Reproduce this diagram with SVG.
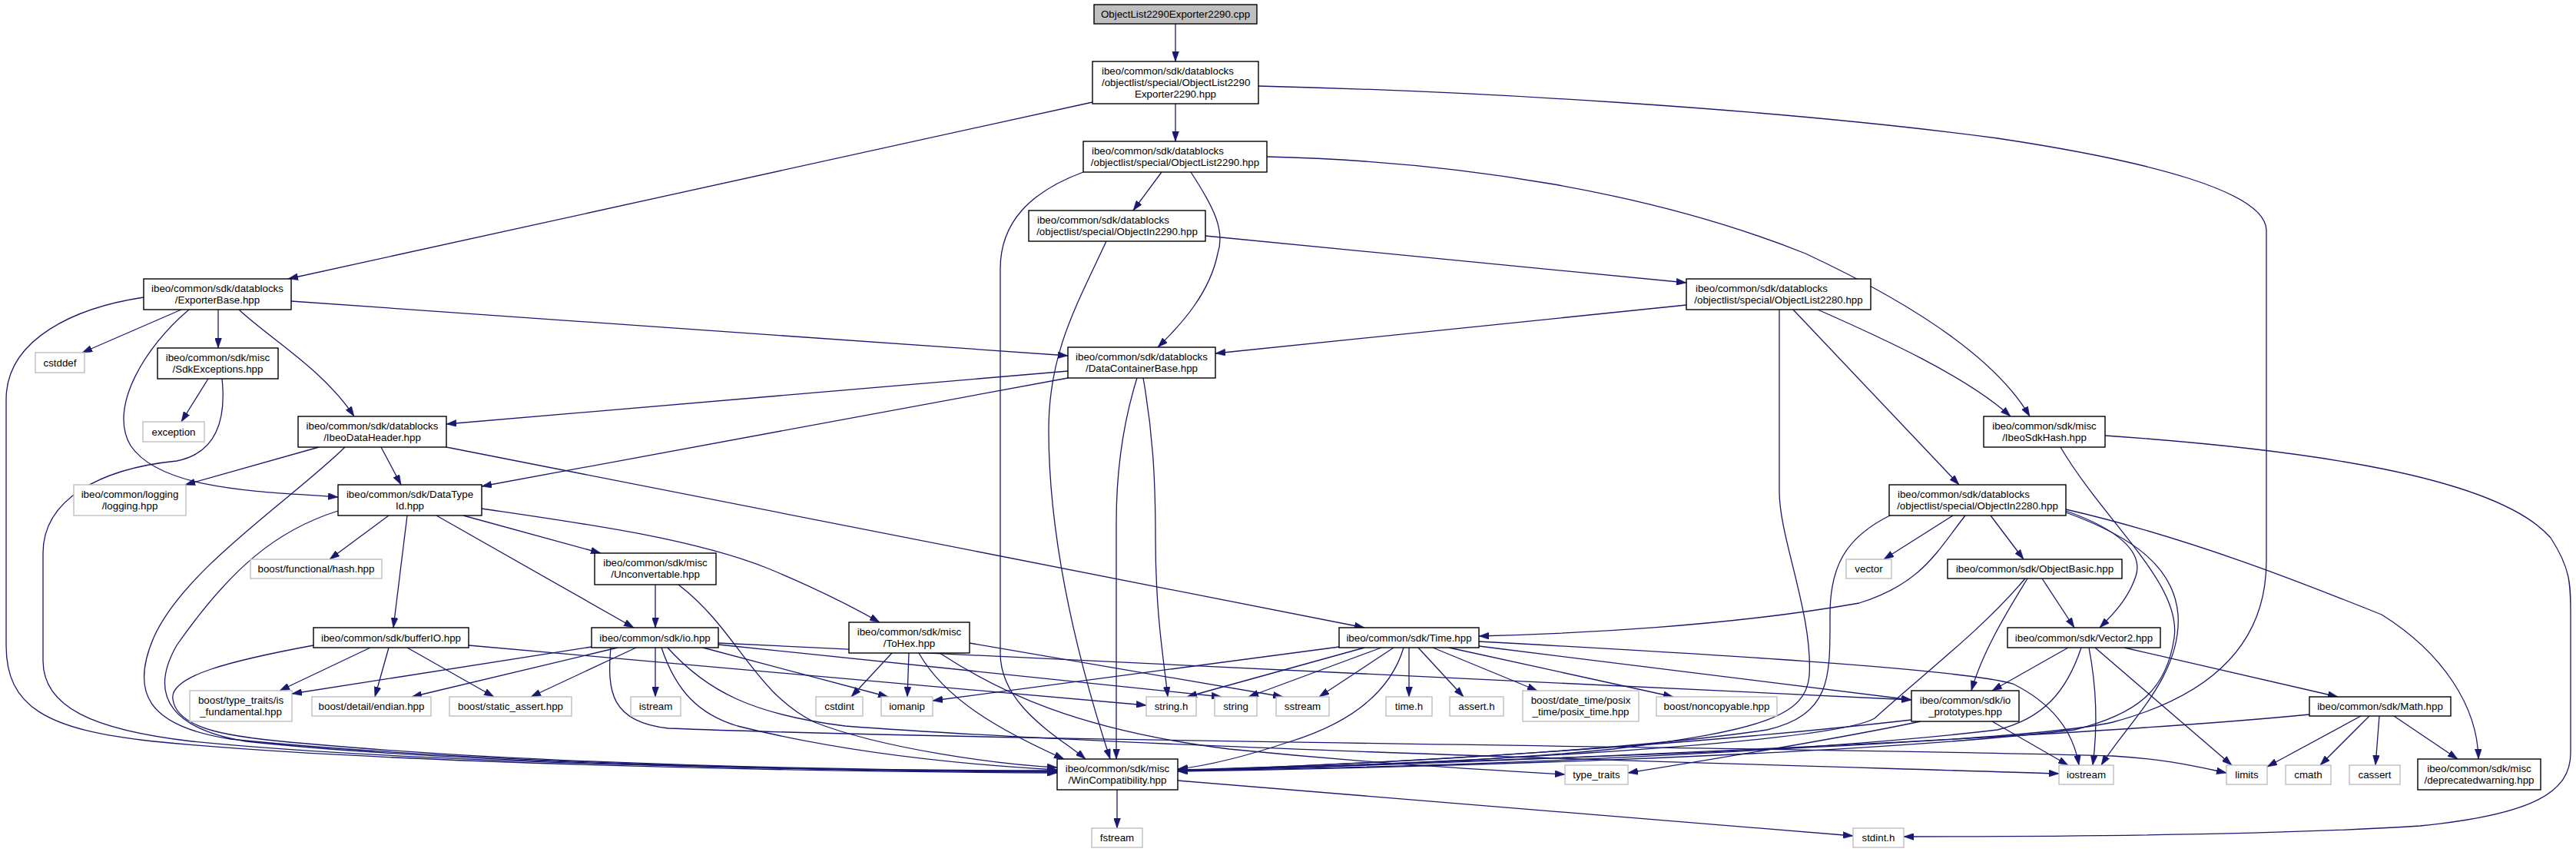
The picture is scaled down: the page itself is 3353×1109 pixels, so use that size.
<svg xmlns="http://www.w3.org/2000/svg" width="3353" height="1109" viewBox="0 0 3353 1109">
<style>
text{font-family:"Liberation Sans",Arial,Helvetica,sans-serif;font-size:13.33px;fill:#000}
.m{text-anchor:middle}
.s{text-anchor:start}
.n rect{fill:#fff;stroke:#000;stroke-width:1.4}
.g rect{fill:#fff;stroke:#bfbfbf;stroke-width:1.4}
.r rect{fill:#bfbfbf;stroke:#000;stroke-width:1.4}
#edges path{fill:none;stroke:#191970;stroke-width:1.3;marker-end:url(#a)}
</style>
<defs>
<marker id="a" markerUnits="userSpaceOnUse" viewBox="0 0 13 9" markerWidth="13" markerHeight="9" refX="13" refY="4.5" orient="auto">
<path d="M0,0 L13,4.5 L0,9 z" fill="#191970" stroke="#191970" stroke-width="0.5"/>
</marker>
</defs>
<rect width="3353" height="1109" fill="#fff"/>
<g id="edges">
<path d="M1530,31 L1530,80"/>
<path d="M1530,135 L1530,184"/>
<path d="M1422,133 L375,363"/>
<path d="M1638,112 C1900,118 2300,140 2600,180 C2800,210 2950,250 2950,300 L2950,730 C2950,820 2900,900 2750,940 C2600,975 1700,996 1533,1003"/>
<path d="M1512,224 L1475,274"/>
<path d="M1550,224 C1580,270 1595,300 1585,330 C1575,380 1540,420 1507,452"/>
<path d="M1649,204 C1900,210 2150,250 2350,330 C2500,400 2600,470 2642,542"/>
<path d="M1410,224 C1340,250 1302,290 1302,350 L1302,850 C1302,920 1380,960 1413,988"/>
<path d="M1569,307 L2195,368"/>
<path d="M1440,314 C1400,400 1365,460 1365,560 C1365,700 1400,850 1445,988"/>
<path d="M2195,397 L1582,460"/>
<path d="M2366,403 C2450,440 2560,490 2617,542"/>
<path d="M2334,403 L2550,631"/>
<path d="M2316,403 L2316,640 C2316,700 2360,800 2355,880 C2350,930 2300,950 2100,975 C1900,995 1650,1000 1533,1003"/>
<path d="M236,403 L107,459"/>
<path d="M284,403 L284,453"/>
<path d="M311,403 C350,440 420,480 461,542"/>
<path d="M246,403 C190,450 140,530 170,580 C210,640 350,640 440,647"/>
<path d="M187,387 C100,400 8,440 8,520 L8,840 C8,920 60,950 200,965 C500,995 1100,1005 1376,1006"/>
<path d="M379,392 L1390,463"/>
<path d="M271,493 L236,549"/>
<path d="M289,493 C295,550 280,590 230,600 C130,610 56,650 56,720 L56,860 C56,920 120,950 250,965 C550,995 1100,1003 1376,1004"/>
<path d="M1390,483 L581,552"/>
<path d="M1390,492 L627,633"/>
<path d="M1480,492 C1465,540 1453,600 1453,680 L1453,988"/>
<path d="M1488,492 C1500,560 1504,620 1504,700 C1504,800 1515,860 1520,907"/>
<path d="M2740,567 C3000,585 3250,620 3320,700 C3346,740 3346,760 3346,800 L3346,980 C3346,1030 3300,1060 3150,1075 C2950,1088 2650,1089 2478,1089"/>
<path d="M2682,582 C2740,680 2840,760 2830,830 C2820,900 2780,930 2700,950 C2400,985 1800,1000 1533,1004"/>
<path d="M415,582 L241,631"/>
<path d="M496,582 L522,631"/>
<path d="M449,582 C380,650 240,740 200,830 C170,900 190,945 300,962 C600,993 1100,1004 1376,1005"/>
<path d="M581,582 L1776,817"/>
<path d="M506,671 L429,728"/>
<path d="M530,671 L512,817"/>
<path d="M568,671 L825,817"/>
<path d="M603,671 L782,720"/>
<path d="M627,662 C750,680 900,700 1000,740 C1060,765 1110,790 1145,810"/>
<path d="M440,665 C360,690 300,740 230,840 C190,910 230,950 320,965 C600,995 1100,1004 1376,1004"/>
<path d="M853,761 L853,817"/>
<path d="M883,761 C960,820 980,900 1060,940 C1150,975 1300,995 1376,999"/>
<path d="M482,843 L364,899"/>
<path d="M506,843 L488,907"/>
<path d="M530,843 L643,907"/>
<path d="M408,840 C300,860 220,880 225,910 C230,950 300,960 400,968 C700,995 1100,1003 1376,1003"/>
<path d="M610,840 L1492,918"/>
<path d="M770,842 L380,903"/>
<path d="M804,843 L536,907"/>
<path d="M828,843 L691,907"/>
<path d="M853,843 L853,907"/>
<path d="M915,843 L1156,907"/>
<path d="M935,839 L1590,907"/>
<path d="M935,837 L2488,911"/>
<path d="M861,843 C880,900 910,930 960,945 C1100,980 1250,995 1376,1002"/>
<path d="M869,843 C920,900 980,930 1100,945 C1500,975 2300,995 2680,1007"/>
<path d="M795,843 C790,900 795,940 870,948 C1300,965 2500,975 2750,984 C2820,988 2860,998 2898,1006"/>
<path d="M1743,842 L1214,912"/>
<path d="M1776,843 L1545,907"/>
<path d="M1798,843 L1625,907"/>
<path d="M1814,843 L1717,907"/>
<path d="M1834,843 L1834,907"/>
<path d="M1846,843 L1905,907"/>
<path d="M1865,843 L2001,899"/>
<path d="M1886,843 L2178,907"/>
<path d="M1925,841 L2488,911"/>
<path d="M1925,835 C2200,850 2550,870 2620,890 C2680,920 2700,960 2706,996"/>
<path d="M1827,843 C1810,900 1760,940 1680,965 C1620,985 1570,997 1533,1001"/>
<path d="M1161,850 L1108,907"/>
<path d="M1183,850 L1181,907"/>
<path d="M1262,837 L1670,907"/>
<path d="M1196,850 C1230,910 1300,950 1385,988"/>
<path d="M1223,850 C1300,900 1400,950 1600,975 C1800,995 1950,1003 2037,1008"/>
<path d="M2542,671 L2452,728"/>
<path d="M2558,671 C2520,720 2500,760 2420,785 C2250,815 2050,825 1925,828"/>
<path d="M2462,670 C2400,700 2382,740 2382,800 C2382,880 2385,930 2300,950 C2100,980 1700,998 1533,1002"/>
<path d="M2591,671 L2634,728"/>
<path d="M2689,665 C2760,690 2790,720 2780,750 C2770,780 2750,800 2733,817"/>
<path d="M2689,667 C2780,700 2830,740 2835,800 C2840,880 2770,940 2735,996"/>
<path d="M2689,663 C2850,700 3000,760 3100,800 C3180,850 3225,920 3226,988"/>
<path d="M2658,753 L2700,817"/>
<path d="M2639,753 C2610,800 2580,850 2566,899"/>
<path d="M2636,753 C2580,820 2500,880 2440,935 C2380,970 1800,998 1533,1003"/>
<path d="M2692,843 L2593,899"/>
<path d="M2719,843 C2730,900 2730,950 2724,996"/>
<path d="M2727,843 L2905,996"/>
<path d="M2765,843 L3043,907"/>
<path d="M2709,843 C2690,900 2660,935 2600,950 C2300,985 1800,1000 1533,1003"/>
<path d="M3073,932 L2951,998"/>
<path d="M3084,932 L3020,996"/>
<path d="M3097,932 L3092,996"/>
<path d="M3116,932 L3199,988"/>
<path d="M3006,930 C2700,960 1900,995 1533,1003"/>
<path d="M2593,939 L2692,996"/>
<path d="M2500,939 C2400,960 2250,985 2119,1006"/>
<path d="M2488,937 C2200,970 1800,995 1533,1003"/>
<path d="M1454,1028 L1454,1078"/>
<path d="M1533,1016 L2412,1088"/>
</g>
<g id="n1" class="r"><rect x="1424" y="6" width="212" height="25"/><text class="m" x="1530" y="23">ObjectList2290Exporter2290.cpp</text></g>
<g id="n2" class="n"><rect x="1422" y="80" width="216" height="55"/><text class="s" x="1434" y="97">ibeo/common/sdk/datablocks</text><text class="s" x="1434" y="112">/objectlist/special/ObjectList2290</text><text class="m" x="1530" y="127">Exporter2290.hpp</text></g>
<g id="n3" class="n"><rect x="1410" y="184" width="239" height="40"/><text class="s" x="1421" y="200.5">ibeo/common/sdk/datablocks</text><text class="m" x="1529.5" y="215.5">/objectlist/special/ObjectList2290.hpp</text></g>
<g id="n4" class="n"><rect x="1339" y="274" width="230" height="40"/><text class="s" x="1350" y="290.5">ibeo/common/sdk/datablocks</text><text class="m" x="1454" y="305.5">/objectlist/special/ObjectIn2290.hpp</text></g>
<g id="n5" class="n"><rect x="2195" y="363" width="240" height="40"/><text class="s" x="2207" y="379.5">ibeo/common/sdk/datablocks</text><text class="m" x="2315" y="394.5">/objectlist/special/ObjectList2280.hpp</text></g>
<g id="n6" class="n"><rect x="187" y="363" width="192" height="40"/><text class="m" x="283" y="379.5">ibeo/common/sdk/datablocks</text><text class="m" x="283" y="394.5">/ExporterBase.hpp</text></g>
<g id="n7" class="n"><rect x="1390" y="452" width="192" height="40"/><text class="m" x="1486" y="468.5">ibeo/common/sdk/datablocks</text><text class="m" x="1486" y="483.5">/DataContainerBase.hpp</text></g>
<g id="n8" class="n"><rect x="2582" y="542" width="158" height="40"/><text class="m" x="2661" y="558.5">ibeo/common/sdk/misc</text><text class="m" x="2661" y="573.5">/IbeoSdkHash.hpp</text></g>
<g id="n9" class="n"><rect x="388" y="542" width="193" height="40"/><text class="m" x="484.5" y="558.5">ibeo/common/sdk/datablocks</text><text class="m" x="484.5" y="573.5">/IbeoDataHeader.hpp</text></g>
<g id="n10" class="n"><rect x="205" y="453" width="157" height="40"/><text class="m" x="283.5" y="469.5">ibeo/common/sdk/misc</text><text class="m" x="283.5" y="484.5">/SdkExceptions.hpp</text></g>
<g id="n11" class="g"><rect x="46" y="459" width="64" height="26"/><text class="m" x="78" y="476.5">cstddef</text></g>
<g id="n12" class="g"><rect x="186" y="549" width="80" height="26"/><text class="m" x="226" y="566.5">exception</text></g>
<g id="n13" class="n"><rect x="440" y="631" width="187" height="40"/><text class="m" x="533.5" y="647.5">ibeo/common/sdk/DataType</text><text class="m" x="533.5" y="662.5">Id.hpp</text></g>
<g id="n14" class="g"><rect x="96" y="631" width="146" height="40"/><text class="m" x="169" y="647.5">ibeo/common/logging</text><text class="m" x="169" y="662.5">/logging.hpp</text></g>
<g id="n15" class="n"><rect x="2459" y="631" width="230" height="40"/><text class="s" x="2470" y="647.5">ibeo/common/sdk/datablocks</text><text class="m" x="2574" y="662.5">/objectlist/special/ObjectIn2280.hpp</text></g>
<g id="n16" class="g"><rect x="2403" y="728" width="59" height="25"/><text class="m" x="2432.5" y="745">vector</text></g>
<g id="n17" class="n"><rect x="2535" y="728" width="227" height="25"/><text class="m" x="2648.5" y="745">ibeo/common/sdk/ObjectBasic.hpp</text></g>
<g id="n18" class="n"><rect x="2613" y="817" width="199" height="26"/><text class="m" x="2712.5" y="834.5">ibeo/common/sdk/Vector2.hpp</text></g>
<g id="n19" class="g"><rect x="326" y="728" width="171" height="25"/><text class="m" x="411.5" y="745">boost/functional/hash.hpp</text></g>
<g id="n20" class="n"><rect x="774" y="720" width="158" height="41"/><text class="m" x="853" y="737">ibeo/common/sdk/misc</text><text class="m" x="853" y="752">/Unconvertable.hpp</text></g>
<g id="n21" class="n"><rect x="408" y="817" width="202" height="26"/><text class="m" x="509" y="834.5">ibeo/common/sdk/bufferIO.hpp</text></g>
<g id="n22" class="n"><rect x="770" y="817" width="165" height="26"/><text class="m" x="852.5" y="834.5">ibeo/common/sdk/io.hpp</text></g>
<g id="n23" class="n"><rect x="1105" y="810" width="157" height="40"/><text class="m" x="1183.5" y="826.5">ibeo/common/sdk/misc</text><text class="m" x="1183.5" y="841.5">/ToHex.hpp</text></g>
<g id="n24" class="n"><rect x="1743" y="817" width="182" height="26"/><text class="m" x="1834" y="834.5">ibeo/common/sdk/Time.hpp</text></g>
<g id="n25" class="n"><rect x="3006" y="907" width="184" height="25"/><text class="m" x="3098" y="924">ibeo/common/sdk/Math.hpp</text></g>
<g id="n26" class="n"><rect x="2488" y="899" width="140" height="40"/><text class="m" x="2558" y="915.5">ibeo/common/sdk/io</text><text class="m" x="2558" y="930.5">_prototypes.hpp</text></g>
<g id="n27" class="g"><rect x="247" y="899" width="133" height="40"/><text class="m" x="313.5" y="915.5">boost/type_traits/is</text><text class="m" x="313.5" y="930.5">_fundamental.hpp</text></g>
<g id="n28" class="g"><rect x="406" y="907" width="155" height="25"/><text class="m" x="483.5" y="924">boost/detail/endian.hpp</text></g>
<g id="n29" class="g"><rect x="585" y="907" width="159" height="25"/><text class="m" x="664.5" y="924">boost/static_assert.hpp</text></g>
<g id="n30" class="g"><rect x="821" y="907" width="65" height="25"/><text class="m" x="853.5" y="924">istream</text></g>
<g id="n31" class="g"><rect x="1062" y="907" width="61" height="25"/><text class="m" x="1092.5" y="924">cstdint</text></g>
<g id="n32" class="g"><rect x="1147" y="907" width="67" height="25"/><text class="m" x="1180.5" y="924">iomanip</text></g>
<g id="n33" class="g"><rect x="1492" y="907" width="65" height="25"/><text class="m" x="1524.5" y="924">string.h</text></g>
<g id="n34" class="g"><rect x="1581" y="907" width="55" height="25"/><text class="m" x="1608.5" y="924">string</text></g>
<g id="n35" class="g"><rect x="1661" y="907" width="69" height="25"/><text class="m" x="1695.5" y="924">sstream</text></g>
<g id="n36" class="g"><rect x="1804" y="907" width="60" height="25"/><text class="m" x="1834" y="924">time.h</text></g>
<g id="n37" class="g"><rect x="1887" y="907" width="70" height="25"/><text class="m" x="1922" y="924">assert.h</text></g>
<g id="n38" class="g"><rect x="1982" y="899" width="151" height="40"/><text class="m" x="2057.5" y="915.5">boost/date_time/posix</text><text class="m" x="2057.5" y="930.5">_time/posix_time.hpp</text></g>
<g id="n39" class="g"><rect x="2156" y="907" width="157" height="25"/><text class="m" x="2234.5" y="924">boost/noncopyable.hpp</text></g>
<g id="n40" class="g"><rect x="2680" y="996" width="71" height="25"/><text class="m" x="2715.5" y="1013">iostream</text></g>
<g id="n41" class="g"><rect x="2898" y="996" width="53" height="25"/><text class="m" x="2924.5" y="1013">limits</text></g>
<g id="n42" class="g"><rect x="2975" y="996" width="59" height="25"/><text class="m" x="3004.5" y="1013">cmath</text></g>
<g id="n43" class="g"><rect x="3058" y="996" width="66" height="25"/><text class="m" x="3091" y="1013">cassert</text></g>
<g id="n44" class="n"><rect x="3147" y="988" width="160" height="40"/><text class="m" x="3227" y="1004.5">ibeo/common/sdk/misc</text><text class="m" x="3227" y="1019.5">/deprecatedwarning.hpp</text></g>
<g id="n45" class="n"><rect x="1376" y="988" width="157" height="40"/><text class="m" x="1454.5" y="1004.5">ibeo/common/sdk/misc</text><text class="m" x="1454.5" y="1019.5">/WinCompatibility.hpp</text></g>
<g id="n46" class="g"><rect x="2037" y="996" width="82" height="25"/><text class="m" x="2078" y="1013">type_traits</text></g>
<g id="n47" class="g"><rect x="1421" y="1078" width="66" height="25"/><text class="m" x="1454" y="1095">fstream</text></g>
<g id="n48" class="g"><rect x="2412" y="1078" width="66" height="25"/><text class="m" x="2445" y="1095">stdint.h</text></g>
</svg>
